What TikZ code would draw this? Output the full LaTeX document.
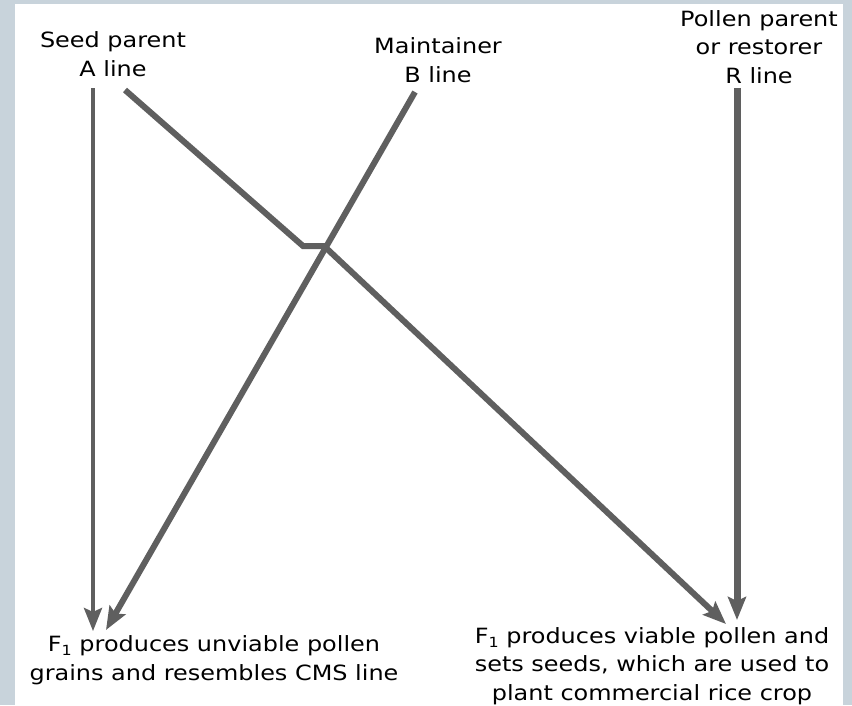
\documentclass[tikz,border=0pt]{standalone}
\usepackage{fontspec}
\usetikzlibrary{arrows.meta}
\newfontfamily\labelfont[FakeStretch=1.14]{DejaVu Sans}
\definecolor{framegray}{RGB}{200,211,219}
\definecolor{linegray}{RGB}{95,95,95}
\newcommand{\Fone}{F\raisebox{-4pt}{\fontsize{14}{14}\selectfont 1}}
\tikzset{
  % base anchor sits on the last line of a multi-line label
  lbl/.style={align=center, inner sep=0pt, anchor=base, text=black,
    font=\labelfont\fontsize{21}{28.5}\selectfont},
  cross/.style={draw=linegray, line width=6pt, line join=miter,
    -{Stealth[length=23pt, width=18pt, inset=4pt]}},
  thin cross/.style={cross, line width=4pt}
}
\begin{document}
\begin{tikzpicture}[x=1pt, y=-1pt]
  % frame and white panel
  \fill[framegray] (0,0) rectangle (852,705);
  \fill[white] (15,4) rectangle (843,705);
  \useasboundingbox (0,0) rectangle (852,705);

  % parent labels
  \node[lbl] (seed) at (113,76) {Seed parent\\A line};
  \node[lbl] (maint) at (438,82) {Maintainer\\B line};
  \node[lbl] (pollen) at (759,83) {Pollen parent\\or restorer\\R line};

  % offspring labels
  \node[lbl] (sterile) at (214,680) {\Fone{} produces unviable pollen\\grains and resembles CMS line};
  \node[lbl] (hybrid) at (652,700) {\Fone{} produces viable pollen and\\sets seeds, which are used to\\plant commercial rice crop};

  % connector ends
  \coordinate (a0) at (93,88);
  \coordinate (a1) at (93,631);
  \coordinate (d0) at (125,90);
  \coordinate (k1) at (303,246);
  \coordinate (k2) at (324,246);
  \coordinate (d1) at (726,624);
  \coordinate (b0) at (415,92);
  \coordinate (b1) at (106,630);
  \coordinate (r0) at (737,88);
  \coordinate (r1) at (737,620);

  % crosses
  \draw[thin cross] (a0) -- (a1);
  \draw[cross] (d0) -- (k1) -- (k2) -- (d1);
  \draw[cross] (b0) -- (b1);
  \draw[cross, line width=7pt] (r0) -- (r1);
\end{tikzpicture}
\end{document}
